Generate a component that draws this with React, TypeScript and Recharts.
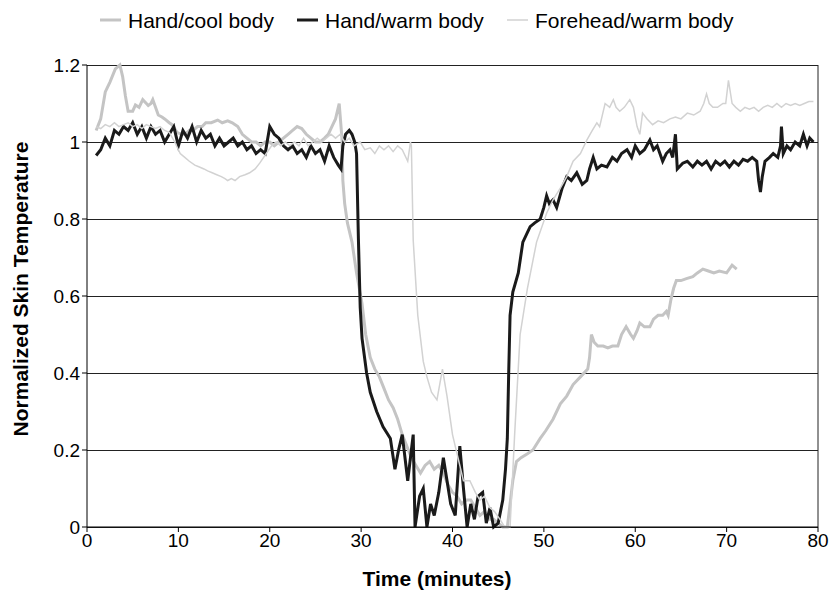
import React from 'react';
import { LineChart, Line, XAxis, YAxis, CartesianGrid, ReferenceLine } from 'recharts';

// Hand/cool body
const coolT = [1, 1.5, 2, 2.5, 3.1, 3.6, 3.9, 4.2, 4.5, 5, 5.3, 5.7, 6.1, 6.5, 6.7, 7, 7.2, 7.5, 7.8, 8.2, 8.5, 9, 9.3, 9.85, 10.3, 10.7, 11.2, 11.6, 12.1, 12.6, 13, 13.6, 14.3, 14.8, 15.4, 15.9, 16.5, 17, 17.5, 18, 18.5, 19, 19.5, 20, 20.5, 21, 21.5, 22, 22.5, 23, 23.5, 24, 24.5, 25, 25.5, 26, 26.4, 26.8, 27.2, 27.6, 27.9, 28, 28.2, 28.5, 29, 29.5, 30.1, 30.5, 31, 31.5, 32, 32.5, 33, 33.5, 34, 34.5, 35, 35.5, 36, 36.5, 37, 37.5, 38, 38.5, 39, 39.5, 40, 40.5, 41, 41.5, 42, 42.5, 43, 43.5, 44, 44.5, 45, 45.5, 46, 46.3, 46.6, 47, 47.5, 48.2, 48.8, 49.6, 50.2, 51, 51.8, 52.5, 53.2, 54, 54.8, 55, 55.2, 55.5, 55.9, 56.5, 57, 57.5, 58.1, 58.5, 59, 59.5, 59.8, 60.2, 60.5, 61, 61.6, 62, 62.5, 63, 63.4, 63.6, 63.9, 64.2, 64.5, 65, 65.6, 66.3, 66.8, 67.4, 68, 68.6, 69.2, 70, 70.6, 71.1];
const coolV = [1.03, 1.06, 1.13, 1.155, 1.19, 1.2, 1.17, 1.12, 1.08, 1.08, 1.096, 1.09, 1.11, 1.1, 1.095, 1.1, 1.11, 1.09, 1.07, 1.065, 1.06, 1.05, 1.045, 1.025, 1.02, 1.02, 1.03, 1.03, 1.04, 1.04, 1.05, 1.05, 1.057, 1.05, 1.055, 1.05, 1.04, 1.02, 1.01, 1.0, 1.0, 0.99, 1.0, 1.0, 0.99, 1.0, 1.01, 1.02, 1.03, 1.04, 1.035, 1.02, 1.01, 1.0, 1.0, 1.01, 1.02, 1.04, 1.06, 1.1, 1.01, 0.9, 0.84, 0.79, 0.74, 0.66, 0.58, 0.5, 0.44, 0.41, 0.39, 0.36, 0.33, 0.31, 0.28, 0.24, 0.21, 0.18, 0.16, 0.14, 0.16, 0.17, 0.15, 0.16, 0.14, 0.11, 0.09, 0.08, 0.06, 0.07, 0.07, 0.05, 0.03, 0.04, 0.02, 0.02, 0.01, 0.0, 0.0, 0.06, 0.12, 0.17, 0.18, 0.19, 0.2, 0.23, 0.25, 0.28, 0.32, 0.34, 0.37, 0.39, 0.41, 0.44, 0.5, 0.48, 0.47, 0.47, 0.465, 0.47, 0.47, 0.5, 0.52, 0.5, 0.49, 0.51, 0.53, 0.52, 0.52, 0.54, 0.55, 0.55, 0.56, 0.55, 0.59, 0.62, 0.64, 0.64, 0.645, 0.65, 0.66, 0.67, 0.665, 0.66, 0.665, 0.66, 0.68, 0.67];

// Hand/warm body
const warmT = [1, 1.5, 2, 2.5, 3, 3.5, 4, 4.5, 5, 5.5, 6, 6.5, 7, 7.5, 8, 8.5, 9, 9.5, 10, 10.5, 11, 11.5, 12, 12.5, 13, 13.5, 14, 14.5, 15, 15.5, 16, 16.5, 17, 17.5, 18, 18.5, 19, 19.5, 20, 20.5, 21, 21.5, 22, 22.5, 23, 23.5, 24, 24.5, 25, 25.5, 26, 26.5, 27, 27.5, 27.8, 28, 28.3, 28.7, 29, 29.3, 29.5, 29.7, 29.9, 30.1, 30.6, 31, 31.7, 32.4, 33.2, 33.7, 34.1, 34.5, 35.1, 35.7, 35.9, 36.4, 36.8, 37.2, 37.6, 38, 38.5, 39, 39.4, 39.8, 40.3, 40.8, 41.2, 41.6, 42, 42.4, 42.8, 43.3, 43.7, 44.1, 44.5, 45, 45.5, 45.8, 46, 46.15, 46.3, 46.6, 47.2, 47.7, 48.1, 48.5, 49, 49.6, 50, 50.3, 50.6, 51, 51.4, 52, 52.5, 53, 53.6, 54.2, 54.7, 55, 55.4, 55.8, 56.3, 56.9, 57.5, 58, 58.5, 59.1, 59.6, 60, 60.5, 61, 61.6, 62, 62.4, 63, 63.4, 63.8, 64.1, 64.4, 64.6, 65.2, 65.7, 66.3, 66.8, 67.3, 67.8, 68.3, 68.8, 69.3, 69.8, 70.3, 70.8, 71.3, 71.8, 72.3, 72.8, 73.3, 73.5, 73.7, 73.9, 74.2, 74.7, 75.1, 75.6, 75.9, 76, 76.2, 76.6, 77, 77.5, 78, 78.4, 78.8, 79.1, 79.5];
const warmV = [0.965, 0.98, 1.01, 0.99, 1.03, 1.02, 1.04, 1.03, 1.05, 1.02, 1.04, 1.01, 1.04, 1.02, 1.03, 1.0, 1.02, 1.04, 0.99, 1.03, 1.01, 1.04, 1.0, 1.03, 1.01, 1.02, 0.99, 1.01, 0.99, 1.0, 1.01, 0.99, 1.0, 0.98, 0.99, 0.97, 0.98, 0.97, 1.04, 1.02, 1.01, 0.99, 0.98, 0.99, 0.97, 0.98, 0.96, 0.99, 0.97, 0.98, 0.95, 0.99, 0.96, 0.94, 0.93, 0.99, 1.02, 1.03, 1.02, 1.0, 0.97, 0.75, 0.57, 0.49, 0.4, 0.35, 0.3, 0.26, 0.23, 0.15, 0.2, 0.24, 0.12, 0.24, 0.0, 0.08, 0.1, 0.0, 0.06, 0.03, 0.09, 0.18, 0.12, 0.06, 0.03, 0.21, 0.1, 0.0, 0.06, 0.02, 0.08, 0.09, 0.01, 0.05, 0.0, 0.01, 0.07, 0.15, 0.23, 0.4, 0.55, 0.61, 0.66, 0.74, 0.76, 0.78, 0.79, 0.8, 0.83, 0.86, 0.84, 0.85, 0.83, 0.88, 0.91, 0.9, 0.92, 0.89, 0.9, 0.93, 0.96, 0.93, 0.94, 0.935, 0.96, 0.95, 0.97, 0.98, 0.96, 0.99, 0.97, 0.98, 1.005, 0.98, 0.99, 0.95, 0.97, 0.98, 0.96, 1.02, 0.93, 0.945, 0.95, 0.935, 0.95, 0.94, 0.95, 0.93, 0.95, 0.94, 0.95, 0.935, 0.95, 0.94, 0.955, 0.95, 0.96, 0.95, 0.9, 0.87, 0.91, 0.95, 0.96, 0.97, 0.96, 0.99, 1.04, 0.97, 0.99, 0.98, 1.0, 0.99, 1.02, 0.99, 1.01, 1.0];

// Forehead/warm body
const foreheadT = [1, 1.5, 2, 2.5, 3, 3.5, 4, 4.5, 5, 5.5, 6, 6.5, 7, 7.5, 8, 8.5, 9, 9.6, 10.2, 10.7, 11.2, 11.8, 12.3, 12.8, 13.2, 13.7, 14.2, 14.7, 15.1, 15.4, 15.8, 16.2, 16.7, 17.3, 17.8, 18.4, 18.9, 19.5, 20.2, 20.7, 21.2, 21.7, 22.2, 22.7, 23.2, 23.7, 24.2, 24.7, 25.2, 25.7, 26.2, 26.7, 27.2, 27.7, 28.2, 28.7, 29.2, 29.9, 30.4, 31, 31.5, 32, 32.5, 33, 33.5, 34, 34.5, 35.1, 35.4, 35.5, 35.7, 36.2, 36.8, 37.2, 37.7, 38.3, 38.9, 39.4, 40, 40.5, 41.2, 41.9, 42.5, 43, 43.5, 44.1, 44.6, 45.2, 45.7, 46.3, 46.8, 47.4, 48.2, 49.2, 50.3, 51, 51.8, 52.5, 53.2, 54, 54.7, 55.3, 55.8, 56.1, 56.4, 56.7, 57.2, 57.6, 57.9, 58.3, 58.8, 59.4, 59.8, 60.2, 60.5, 60.8, 61.3, 61.9, 62.5, 63.1, 63.8, 64.4, 65, 65.7, 66.4, 67.1, 67.5, 67.8, 68.1, 68.5, 69, 69.6, 69.9, 70.2, 70.6, 71, 71.5, 72, 72.5, 73, 73.5, 74, 74.5, 75, 75.5, 76, 76.5, 77, 77.5, 78, 78.5, 79, 79.5];
const foreheadV = [1.04, 1.035, 1.045, 1.04, 1.05, 1.04, 1.045, 1.05, 1.04, 1.045, 1.035, 1.045, 1.04, 1.035, 1.04, 1.03, 1.025, 1.0, 0.97, 0.96, 0.95, 0.94, 0.935, 0.93, 0.925, 0.92, 0.915, 0.91, 0.905, 0.9, 0.905, 0.9, 0.91, 0.915, 0.92, 0.93, 0.945, 0.966, 0.99, 1.0, 0.99, 1.0, 0.99, 1.0, 0.99, 1.01, 0.99, 1.0, 1.01, 1.0, 1.01, 1.02, 1.01, 1.02, 1.0, 1.01, 0.99, 1.0, 0.98, 0.985, 0.97, 0.99, 0.98, 0.99, 0.975, 0.99, 0.98, 0.95, 1.0, 0.99, 0.745, 0.55, 0.43, 0.39, 0.35, 0.33, 0.41, 0.34, 0.24, 0.19, 0.12, 0.12, 0.09, 0.07, 0.08, 0.05, 0.04, 0.02, 0.0, 0.0, 0.24, 0.5, 0.62, 0.74, 0.815, 0.85, 0.88, 0.91, 0.95, 0.97, 1.005, 1.03, 1.05, 1.04, 1.07, 1.1, 1.09, 1.11, 1.09, 1.08, 1.09, 1.11, 1.09, 1.04, 1.02, 1.075, 1.06, 1.045, 1.055, 1.05, 1.06, 1.065, 1.06, 1.075, 1.07, 1.08, 1.1, 1.125, 1.1, 1.09, 1.09, 1.1, 1.1, 1.16, 1.1, 1.09, 1.08, 1.09, 1.085, 1.09, 1.08, 1.09, 1.095, 1.09, 1.1, 1.09, 1.1, 1.095, 1.1, 1.095, 1.1, 1.105, 1.105];

const xTicks = [0, 10, 20, 30, 40, 50, 60, 70, 80];
const yTicks = [0, 0.2, 0.4, 0.6, 0.8, 1, 1.2];

const toPoints = (ts: number[], vs: number[]) => ts.map((t, i) => ({ t, v: vs[i] }));
const coolData = toPoints(coolT, coolV);
const warmData = toPoints(warmT, warmV);
const foreheadData = toPoints(foreheadT, foreheadV);

const FONT = 'Arial, "Liberation Sans", Helvetica, sans-serif';

const YTitle = () => (
  <text
    x={20}
    y={289}
    transform="rotate(-90 20 289)"
    textAnchor="middle"
    dominantBaseline="central"
    fontFamily={FONT}
    fontWeight="bold"
    fontSize={21}
    fill="#000"
  >
    Normalized Skin Temperature
  </text>
);

const XTitle = () => (
  <text x={437} y={578} textAnchor="middle" dominantBaseline="central" fontFamily={FONT} fontWeight="bold" fontSize={21} fill="#000">
    Time (minutes)
  </text>
);

const legendItems = [
  { name: 'Hand/cool body', color: '#c4c4c4', width: 3, x: 100 },
  { name: 'Hand/warm body', color: '#1a1a1a', width: 3, x: 297 },
  { name: 'Forehead/warm body', color: '#d2d2d2', width: 1.5, x: 507 },
];

export default function App() {
  return (
    <div style={{ position: 'absolute', left: 0, top: 0, width: 831, height: 594, background: '#fff' }}>
      <svg width={831} height={40} style={{ position: 'absolute', left: 0, top: 0 }}>
        {legendItems.map((it) => (
          <g key={it.name}>
            <line x1={it.x} x2={it.x + 21} y1={20} y2={20} stroke={it.color} strokeWidth={it.width} />
            <text x={it.x + 28} y={20} dominantBaseline="central" fontFamily={FONT} fontSize={21} fill="#000">
              {it.name}
            </text>
          </g>
        ))}
      </svg>
      <LineChart width={831} height={594} margin={{ top: 65, right: 13, left: 0, bottom: 17 }}>
        <CartesianGrid vertical={false} stroke="#222" strokeWidth={1} shapeRendering="crispEdges" />
        <XAxis
          type="number"
          dataKey="t"
          domain={[0, 80]}
          ticks={xTicks}
          height={50}
          tickSize={5}
          stroke="#000"
          tick={{ fill: '#000', fontSize: 19, fontFamily: FONT }}
          label={<XTitle />}
        />
        <YAxis
          type="number"
          dataKey="v"
          domain={[0, 1.2]}
          ticks={yTicks}
          width={87}
          tickSize={5}
          stroke="#000"
          tick={{ fill: '#000', fontSize: 19, fontFamily: FONT }}
          label={<YTitle />}
        />
        <ReferenceLine x={80} stroke="#222" />
        <Line data={coolData} dataKey="v" stroke="#c4c4c4" strokeWidth={3} dot={false} isAnimationActive={false} />
        <Line data={warmData} dataKey="v" stroke="#1a1a1a" strokeWidth={3} dot={false} isAnimationActive={false} />
        <Line data={foreheadData} dataKey="v" stroke="#d2d2d2" strokeWidth={1.5} dot={false} isAnimationActive={false} />
      </LineChart>
    </div>
  );
}
